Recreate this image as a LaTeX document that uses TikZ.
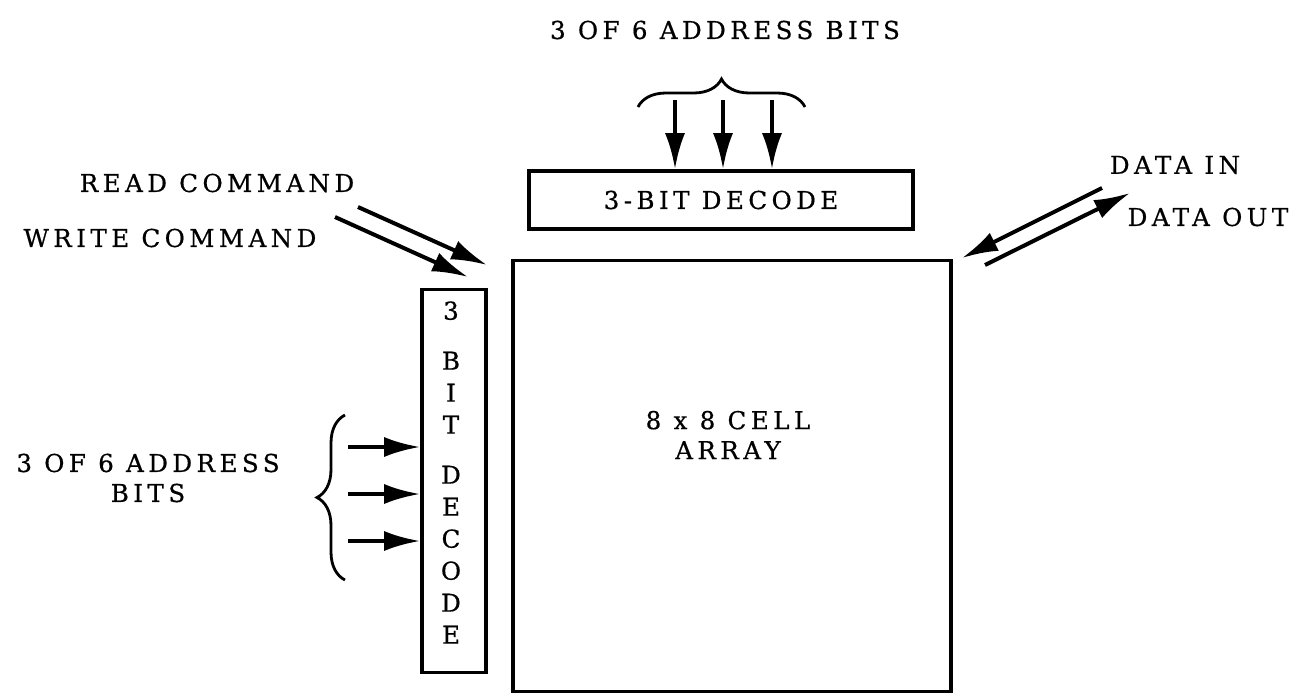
\documentclass[tikz,border=0pt]{standalone}
\usepackage{fontspec}
\setmainfont{DejaVu Serif}[LetterSpace=18,FakeBold=0.6]
\usetikzlibrary{positioning,arrows.meta,decorations.pathreplacing}

\begin{document}
\begin{tikzpicture}[x=0.5pt,y=-0.5pt,font=\fontsize{12.3}{15}\selectfont,
  box/.style={draw,line width=1.8pt,inner sep=0pt},
  lbl/.style={inner sep=0pt,align=center},
  arr/.style={line width=2pt,-{Latex[length=18pt,width=10pt]}},
  brc/.style={line width=1.4pt,decorate,decoration={brace,amplitude=14pt}}]
  \useasboundingbox (0,0) rectangle (1292,697);
  \node[box,minimum width=192pt,minimum height=29pt] (tdec) at (721,200) {3-BIT DECODE};
  \node[box,minimum width=219pt,minimum height=215.5pt] (cells) at (732,476) {};
  \node[lbl] (ctxt) at (728,435) {8 x 8 CELL\\ARRAY};
  \node[box,minimum width=32pt,minimum height=191.5pt] (ldec) at (454,481) {};
  \node[lbl,font=\fontsize{12.3}{16}\selectfont,anchor=north] (ltxt) at (451,301)
    {3\\[9pt]B\\I\\T\\[9pt]D\\E\\C\\O\\D\\E};
  \node[lbl] (topbits) at (725,30) {3 OF 6 ADDRESS BITS};
  \node[lbl] (leftbits) at (148,478) {3 OF 6 ADDRESS\\BITS};
  \node[lbl] (rd) at (217,183) {READ COMMAND};
  \node[lbl] (wr) at (170,238) {WRITE COMMAND};
  \node[lbl] (din) at (1175,165) {DATA IN};
  \node[lbl] (dout) at (1208,217) {DATA OUT};
  % braces
  \draw[brc] (638,107) -- (805,107);
  \draw[brc] (345,580) -- (345,415);
  % address bit inputs
  \foreach \i/\x in {1/675,2/723,3/772} {
    \coordinate (t\i) at (\x,100);
    \draw[arr] (t\i) -- (t\i |- tdec.north);
  }
  \foreach \i/\y in {1/447,2/494,3/541} {
    \coordinate (l\i) at (348,\y);
    \draw[arr] (l\i) -- (l\i -| ldec.west);
  }
  % commands and data
  \coordinate (rs) at (358,207); \coordinate (re) at (487,265);
  \coordinate (ws) at (335,217); \coordinate (we) at (468,277);
  \coordinate (is) at (1102,188); \coordinate (ie) at (962,258);
  \coordinate (os) at (985,265); \coordinate (oe) at (1130,193);
  \draw[arr] (rs) -- (re); \draw[arr] (ws) -- (we);
  \draw[arr] (is) -- (ie); \draw[arr] (os) -- (oe);
\end{tikzpicture}
\end{document}
